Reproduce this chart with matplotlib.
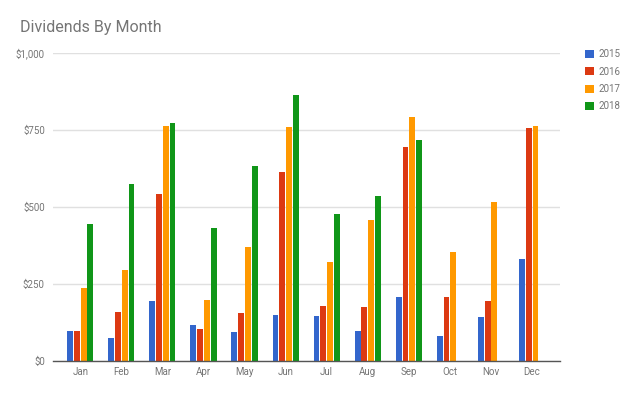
import numpy as np
import matplotlib.pyplot as plt
from matplotlib.patches import Patch

plt.rcParams['font.family'] = ['Roboto', 'DejaVu Sans']

months = ['Jan', 'Feb', 'Mar', 'Apr', 'May', 'Jun',
          'Jul', 'Aug', 'Sep', 'Oct', 'Nov', 'Dec']
years = ['2015', '2016', '2017', '2018']
div_2015 = [98, 76, 196, 117, 95, 149, 146, 98, 207, 81, 142, 330]
div_2016 = [98, 159, 541, 104, 157, 614, 180, 175, 695, 208, 196, 756]
div_2017 = [236, 297, 763, 198, 370, 759, 320, 459, 791, 353, 517, 763]
div_2018 = [444, 574, 774, 431, 634, 864, 476, 536, 718, np.nan, np.nan, np.nan]
series = [div_2015, div_2016, div_2017, div_2018]
colors = ['#3366cc', '#dc3912', '#ff9900', '#109618']
yticks = [0, 250, 500, 750, 1000]
ytick_labels = ['$0', '$250', '$500', '$750', '$1,000']

fig = plt.figure(figsize=(6.4, 3.95), dpi=100)
ax = fig.add_axes([0.083, 0.086, 0.792, 0.78])

x = np.arange(len(months))
slot = 0.165
for i, (vals, c) in enumerate(zip(series, colors)):
    ax.bar(x + (i - 1.5) * slot, vals, width=slot * 0.86, color=c, zorder=3)

ax.set_xlim(-0.66, 11.68)
ax.set_ylim(0, 1000)
ax.set_yticks(yticks)
ax.set_yticklabels(ytick_labels)
ax.set_xticks(x)
ax.set_xticklabels(months)
ax.tick_params(length=0, labelsize=7, colors='#757575', pad=6)
ax.tick_params(axis='x', pad=4)
ax.grid(axis='y', color='#e0e0e0', linewidth=1, zorder=0)
for s in ['top', 'right', 'left']:
    ax.spines[s].set_visible(False)
ax.spines['bottom'].set_color('#555555')
ax.spines['bottom'].set_linewidth(1)
ax.spines['bottom'].set_zorder(4)

fig.text(0.031, 0.93, 'Dividends By Month', fontsize=11.5, color='#757575',
         va='center', ha='left')

handles = [Patch(facecolor=c, edgecolor='none') for c in colors]
fig.legend(handles, years, loc='upper left', bbox_to_anchor=(0.908, 0.885),
           frameon=False, fontsize=7, labelcolor='#757575',
           handlelength=0.9, handleheight=0.9, handletextpad=0.5,
           labelspacing=0.75, borderaxespad=0)

fig.savefig('out.png', dpi=100)
